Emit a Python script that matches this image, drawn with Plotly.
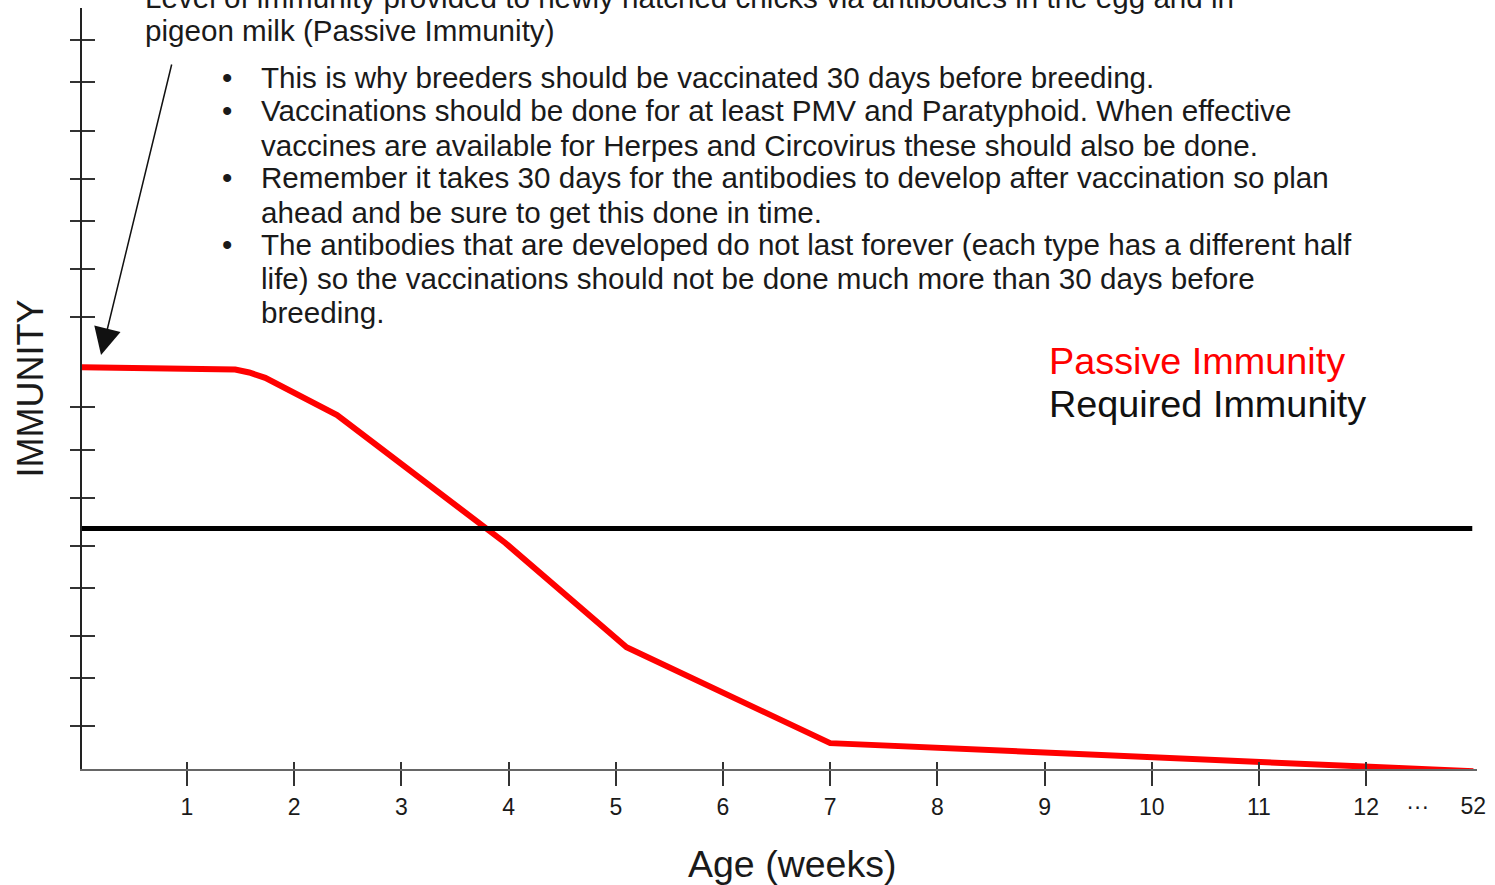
import plotly.graph_objects as go

# ---- data (weeks position on axis, immunity level 0-100) ----
passive_weeks = [0.02, 1.24, 1.45, 1.58, 1.73, 2.40, 3.97, 5.10, 7.0, 13.0]
passive_level = [52.8, 52.7, 52.5, 52.1, 51.4, 46.5, 29.7, 16.0, 3.4, -0.3]
required_weeks = [0.02, 12.99]
required_level = [31.6, 31.6]

week_ticks = [1, 2, 3, 4, 5, 6, 7, 8, 9, 10, 11, 12]
week_labels = ["1", "2", "3", "4", "5", "6", "7", "8", "9", "10", "11", "12"]
extra_tick_pos = [12.48, 13.0]
extra_tick_labels = ["···", "52"]
immunity_ticks = [95.8, 90.3, 83.8, 77.5, 72.0, 65.7, 59.4, 47.6, 41.9,
                  35.6, 29.3, 23.8, 17.5, 12.0, 5.7]

title_lines = [
    "Level of immunity provided to newly hatched chicks via antibodies in the egg and in",
    "pigeon milk (Passive Immunity)",
]
bullet_lines = [
    (True, "This is why breeders should be vaccinated 30 days before breeding."),
    (True, "Vaccinations should be done for at least PMV and Paratyphoid. When effective"),
    (False, "vaccines are available for Herpes and Circovirus these should also be done."),
    (True, "Remember it takes 30 days for the antibodies to develop after vaccination so plan"),
    (False, "ahead and be sure to get this done in time."),
    (True, "The antibodies that are developed do not last forever (each type has a different half"),
    (False, "life) so the vaccinations should not be done much more than 30 days before"),
    (False, "breeding."),
]

# ---- layout geometry ----
W, H = 1495, 885
ML, MR, MT, MB = 82, 18, 8, 116
PW = W - ML - MR
PH = H - MT - MB
X_RANGE = [0.0205, 13.034]
Y_RANGE = [0, 100]
FONT = "Liberation Sans, Arial, sans-serif"
TXT = "#1a1a1a"


def px_x(px):
    return (px - ML) / PW


def px_y(py):
    return (H - MB - py) / PH


fig = go.Figure()
fig.add_trace(go.Scatter(x=passive_weeks, y=passive_level, mode="lines",
                         line=dict(color="#ff0000", width=6),
                         name="Passive Immunity", showlegend=False, hoverinfo="skip"))
fig.add_trace(go.Scatter(x=required_weeks, y=required_level, mode="lines",
                         line=dict(color="#000000", width=5),
                         name="Required Immunity", showlegend=False, hoverinfo="skip"))
# helper traces to register overlay axes (crossing ticks / extra labels)
fig.add_trace(go.Scatter(x=[None], y=[None], xaxis="x2", yaxis="y2",
                         showlegend=False, hoverinfo="skip"))
fig.add_trace(go.Scatter(x=[None], y=[None], xaxis="x3", yaxis="y",
                         showlegend=False, hoverinfo="skip"))

annotations = []
# top explanatory text
for line, ypx in zip(title_lines, [-3, 30]):
    annotations.append(dict(x=px_x(143), y=px_y(ypx), xref="paper", yref="paper",
                            xanchor="left", yanchor="middle", text=line, showarrow=False,
                            font=dict(family=FONT, size=29.6, color=TXT)))
bullet_y = [78, 111, 145, 178, 212, 245, 278, 312]
for (has_bullet, line), ypx in zip(bullet_lines, bullet_y):
    if has_bullet:
        annotations.append(dict(x=px_x(227), y=px_y(ypx), xref="paper", yref="paper",
                                xanchor="center", yanchor="middle", text="•", showarrow=False,
                                font=dict(family=FONT, size=29.6, color=TXT)))
    annotations.append(dict(x=px_x(259), y=px_y(ypx), xref="paper", yref="paper",
                            xanchor="left", yanchor="middle", text=line, showarrow=False,
                            font=dict(family=FONT, size=29.6, color=TXT)))
# arrow pointing at the passive immunity start level
annotations.append(dict(x=0.198, y=54.4, xref="x", yref="y", ax=71, ay=-292,
                        axref="pixel", ayref="pixel", text="", showarrow=True,
                        arrowhead=2, arrowsize=3.6, arrowwidth=1.5, arrowcolor="#111",
                        standoff=0))
# legend-like labels
annotations.append(dict(x=px_x(1047), y=px_y(361), xref="paper", yref="paper",
                        xanchor="left", yanchor="middle", text="Passive Immunity",
                        showarrow=False, font=dict(family=FONT, size=37.8, color="#ff0000")))
annotations.append(dict(x=px_x(1047), y=px_y(404), xref="paper", yref="paper",
                        xanchor="left", yanchor="middle", text="Required Immunity",
                        showarrow=False, font=dict(family=FONT, size=37.8, color="#111111")))
# x axis title
annotations.append(dict(x=px_x(792), y=px_y(864), xref="paper", yref="paper",
                        xanchor="center", yanchor="middle", text="Age (weeks)",
                        showarrow=False, font=dict(family=FONT, size=37.5, color=TXT)))

fig.update_layout(
    width=W, height=H,
    margin=dict(l=ML, r=MR, t=MT, b=MB, pad=0),
    paper_bgcolor="white", plot_bgcolor="white",
    showlegend=False,
    font=dict(family=FONT, color=TXT),
    xaxis=dict(range=X_RANGE, showgrid=False, zeroline=False,
               showline=True, linecolor="#666", linewidth=1.5,
               tickmode="array", tickvals=week_ticks, ticktext=week_labels,
               ticks="outside", ticklen=15, tickwidth=1.5, tickcolor="#333",
               tickfont=dict(family=FONT, size=23, color=TXT), ticklabelstandoff=2),
    xaxis2=dict(range=X_RANGE, overlaying="x", anchor="y", showgrid=False, zeroline=False,
                showline=False, tickmode="array", tickvals=week_ticks,
                ticks="inside", ticklen=7, tickwidth=1.5, tickcolor="#333",
                showticklabels=False),
    xaxis3=dict(range=X_RANGE, overlaying="x", anchor="y", showgrid=False, zeroline=False,
                showline=False, tickmode="array", tickvals=extra_tick_pos,
                ticktext=extra_tick_labels, ticks="", ticklabelstandoff=21,
                tickfont=dict(family=FONT, size=23, color=TXT)),
    yaxis=dict(range=Y_RANGE, showgrid=False, zeroline=False,
               showline=True, linecolor="#222", linewidth=1.8,
               tickmode="array", tickvals=immunity_ticks, showticklabels=False,
               ticks="outside", ticklen=10, tickwidth=1.5, tickcolor="#333",
               title=dict(text="IMMUNITY", font=dict(family=FONT, size=36, color=TXT),
                          standoff=16)),
    yaxis2=dict(range=Y_RANGE, overlaying="y", anchor="x", side="left",
                showgrid=False, zeroline=False, showline=False,
                tickmode="array", tickvals=immunity_ticks, showticklabels=False,
                ticks="inside", ticklen=13, tickwidth=1.5, tickcolor="#333"),
    annotations=annotations,
)

fig.write_html("out.html", config={"displayModeBar": False},
               post_script="document.body.style.margin='0';document.body.style.padding='0';")
